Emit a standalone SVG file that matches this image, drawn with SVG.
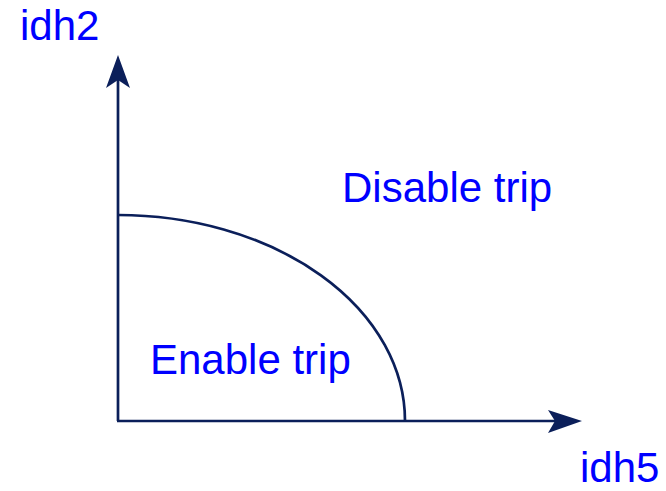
<svg xmlns="http://www.w3.org/2000/svg" width="666" height="491" viewBox="0 0 666 491">
<style>
.ax{fill:none;stroke:#0b1f5a;stroke-width:2.7}
.ah{fill:#0b1f5a;stroke:none}
.t{font-family:"Liberation Sans",Arial,sans-serif;font-size:42px;fill:#0000ff}
</style>
<rect width="666" height="491" fill="#ffffff"/>
<g id="connectors">
<line class="ax" x1="118" y1="421" x2="118" y2="78"/>
<line class="ax" x1="117" y1="421" x2="560" y2="421"/>
<path class="ah" d="M118,55 L130,88 L118,80 L106,88 Z"/>
<path class="ah" d="M582,421 L548,433 L555,421 L548,410 Z"/>
<path class="ax" d="M118,215 A287,206 0 0 1 405,421"/>
</g>
<g id="idh2"><text class="t" x="20" y="40">idh2</text></g>
<g id="idh5"><text class="t" x="580" y="482">idh5</text></g>
<g id="disable"><text class="t" x="342" y="202">Disable trip</text></g>
<g id="enable"><text class="t" x="150" y="374">Enable trip</text></g>
</svg>
